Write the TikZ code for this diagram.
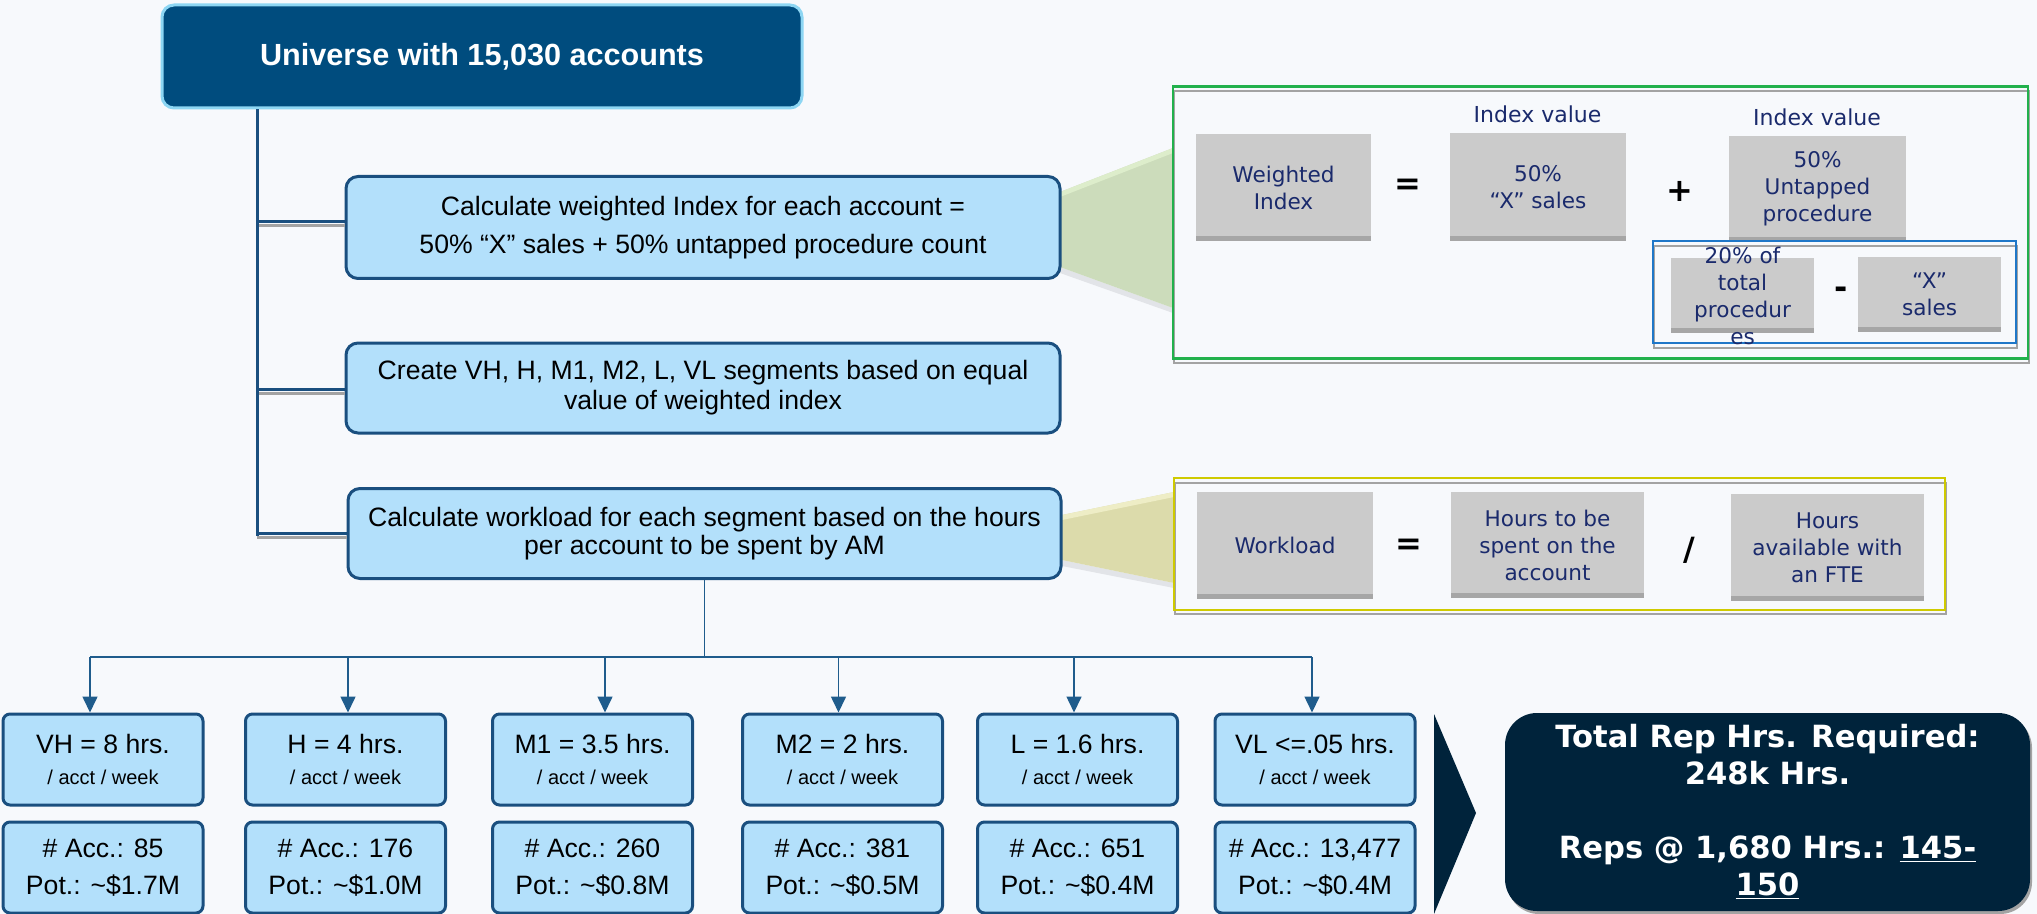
\documentclass[tikz,border=0pt]{standalone}
\usepackage{fontspec}
\setmainfont{Liberation Sans}
\newfontfamily\verd{DejaVu Sans}
\usetikzlibrary{arrows.meta}
\definecolor{bg}{HTML}{F7F9FC}
\definecolor{lblue}{HTML}{B3E0FB}
\definecolor{dblue}{HTML}{1A4F7F}
\definecolor{topfill}{HTML}{004C7E}
\definecolor{topborder}{HTML}{8DD6F3}
\definecolor{navyfill}{HTML}{00233B}
\definecolor{gbox}{HTML}{CBCBCB}
\definecolor{gstrip}{HTML}{A6A6A6}
\definecolor{gtext}{HTML}{1A2A6C}
\definecolor{pgreen}{HTML}{22B14C}
\definecolor{pyellow}{HTML}{CFCA00}
\definecolor{pblue}{HTML}{1F77C8}
\definecolor{shadowgray}{HTML}{A3A3A3}
\definecolor{trapgreen}{HTML}{CCDCBB}
\definecolor{trapgreenL}{HTML}{DDEDCB}
\definecolor{trapyel}{HTML}{DCDBAB}
\definecolor{trapyelL}{HTML}{EEEDC6}
\definecolor{trapshadow}{HTML}{E2E4E8}
\definecolor{linkblue}{HTML}{1F5C8C}
\tikzset{
  sz/.style 2 args={minimum width={#1*0.5pt}, minimum height={#2*0.5pt}},
  lbox/.style={draw=dblue, fill=lblue, line width=1.5pt, rounded corners=6pt,
    align=center, inner sep=0pt, text=black},
  segbox/.style={lbox, rounded corners=3.5pt, sz={200}{91}},
  seg1/.style={segbox, font=\fontsize{13.3}{15.8}\selectfont},
  seg2/.style={segbox, font=\fontsize{13.3}{18.5}\selectfont},
  gbx/.style={fill=gbox, draw=none, inner sep=0pt, align=center, text=gtext,
    font=\verd\fontsize{10.8}{13.5}\selectfont,
    path picture={\fill[gstrip] (path picture bounding box.south west) rectangle
      ([yshift=2.5pt]path picture bounding box.south east);}},
  gtxt/.style={inner sep=0pt, align=center, text=gtext, font=\verd\fontsize{10.8}{13.5}\selectfont},
  op/.style={font=\verd\bfseries\fontsize{16}{16}\selectfont, text=black, inner sep=0pt},
  ival/.style={font=\verd\fontsize{11}{13}\selectfont, text=gtext, inner sep=0pt},
  spine/.style={draw=dblue, line width=1.5pt},
  spshadow/.style={draw=shadowgray, line width=1.5pt},
  link/.style={draw=linkblue, line width=0.8pt},
  arr/.style={link, -{Triangle[width=7.5pt,length=8pt]}},
  panelshadow/.style={draw=shadowgray, line width=1pt},
}
\begin{document}
\begin{tikzpicture}[x=0.5pt,y=-0.5pt]
\fill[bg] (0,0) rectangle (2037,914);
\useasboundingbox (0,0) rectangle (2037,914);

% trapezoid callouts
\fill[trapshadow] (1060,267) -- (1173,308) -- (1173,313) -- (1060,273) -- cycle;
\fill[trapgreen] (1060,192) -- (1173,148) -- (1173,308) -- (1060,267) -- cycle;
\fill[trapgreenL] (1060,192) -- (1173,148) -- (1173,153) -- (1060,197) -- cycle;
\fill[trapshadow] (1062,560) -- (1174,583) -- (1174,588) -- (1062,566) -- cycle;
\fill[trapyel] (1062,515) -- (1174,492) -- (1174,583) -- (1062,560) -- cycle;
\fill[trapyelL] (1062,515) -- (1174,492) -- (1174,497) -- (1062,520) -- cycle;

% top box
\node[draw=topborder, fill=topfill, line width=1.5pt, rounded corners=6pt, sz={640}{103},
  text=white, font=\bfseries\fontsize{15.3}{18}\selectfont] (top) at (482,56.5)
  {Universe with 15,030 accounts};

% step boxes
\node[lbox, sz={714}{102}, font=\fontsize{13.3}{19}\selectfont] (box1) at (703,227.5)
  {Calculate weighted Index for each account =\\50\% “X” sales + 50\% untapped procedure count};
\node[lbox, sz={714}{90}, font=\fontsize{13.3}{15}\selectfont] (box2) at (703,388)
  {Create VH, H, M1, M2, L, VL segments based on equal\\value of weighted index};
\node[lbox, sz={713}{90}, font=\fontsize{13.3}{13.8}\selectfont] (box3) at (704.5,533.5)
  {Calculate workload for each segment based on the hours\\per account to be spent by AM};

% spine and branches
\coordinate (spb) at (257,536);
\coordinate (b1) at ([yshift=2.75pt]box1.west);
\coordinate (b1s) at ([yshift=0.75pt]box1.west);
\coordinate (b2) at ([yshift=-0.5pt]box2.west);
\coordinate (b2s) at ([yshift=-2.5pt]box2.west);
\coordinate (b3) at (box3.west);
\coordinate (b3s) at ([yshift=-2pt]box3.west);
\draw[spshadow] (b1s -| spb) -- (b1s);
\draw[spshadow] (b2s -| spb) -- (b2s);
\draw[spshadow] (b3s -| spb) -- (b3s);
\draw[spine] (b1 -| spb) -- (b1);
\draw[spine] (b2 -| spb) -- (b2);
\draw[spine] (b3 -| spb) -- (b3);
\draw[spine] (top.south -| spb) -- (spb);

% segment boxes
\node[seg1] (vh) at (103,759.5) {VH = 8 hrs.\\{\fontsize{10}{12}\selectfont / acct / week}};
\node[seg1] (h)  at (345.5,759.5) {H = 4 hrs.\\{\fontsize{10}{12}\selectfont / acct / week}};
\node[seg1] (m1) at (592.5,759.5) {M1 = 3.5 hrs.\\{\fontsize{10}{12}\selectfont / acct / week}};
\node[seg1] (m2) at (842.5,759.5) {M2 = 2 hrs.\\{\fontsize{10}{12}\selectfont / acct / week}};
\node[seg1] (l)  at (1077.5,759.5) {L = 1.6 hrs.\\{\fontsize{10}{12}\selectfont / acct / week}};
\node[seg1] (vl) at (1315,759.5) {VL <=.05 hrs.\\{\fontsize{10}{12}\selectfont / acct / week}};

\node[seg2] (vhb) at (103,867.5) {\# Acc.: 85\\Pot.: \textasciitilde\$1.7M};
\node[seg2] (hb)  at (345.5,867.5) {\# Acc.: 176\\Pot.: \textasciitilde\$1.0M};
\node[seg2] (m1b) at (592.5,867.5) {\# Acc.: 260\\Pot.: \textasciitilde\$0.8M};
\node[seg2] (m2b) at (842.5,867.5) {\# Acc.: 381\\Pot.: \textasciitilde\$0.5M};
\node[seg2] (lb)  at (1077.5,867.5) {\# Acc.: 651\\Pot.: \textasciitilde\$0.4M};
\node[seg2] (vlb) at (1315,867.5) {\# Acc.: 13,477\\Pot.: \textasciitilde\$0.4M};

% bus and arrows
\coordinate (bus) at (705,657);
\coordinate (a1) at (90,657);
\coordinate (a2) at (348,657);
\coordinate (a3) at (605,657);
\coordinate (a4) at (838.5,657);
\coordinate (a5) at (1074,657);
\coordinate (a6) at (1312,657);
\draw[link] (box3.south) -- (box3.south |- bus);
\draw[link] (a1) -- (a6);
\draw[arr] (a1) -- (a1 |- vh.north);
\draw[arr] (a2) -- (a2 |- h.north);
\draw[arr] (a3) -- (a3 |- m1.north);
\draw[arr] (a4) -- (a4 |- m2.north);
\draw[arr] (a5) -- (a5 |- l.north);
\draw[arr] (a6) -- (a6 |- vl.north);

% chevron and total
\fill[navyfill] (1434,714) -- (1476,813) -- (1434,914) -- cycle;
\fill[shadowgray, rounded corners=16pt] (1507,716) rectangle (2032,914);
\node[fill=navyfill, rounded corners=16pt, sz={525}{198}, text=white, align=center, inner sep=0pt,
  font=\verd\bfseries\fontsize{15.3}{18.5}\selectfont] (tot) at (1767.5,812)
  {Total Rep Hrs. Required:\\248k Hrs.\\[18.5pt]Reps @ 1,680 Hrs.: \underline{145-}\\\underline{150}};

% panel 1
\draw[panelshadow] (1174,91) rectangle (2029,363);
\node[draw=pgreen, line width=1.2pt, sz={855}{272}, inner sep=0pt] (p1) at (1600.5,222.5) {};
\node[gbx, sz={175}{107}] (wi) at (1283.5,187.5) {Weighted\\Index};
\node[op] (eq1) at (1408,187) {=};
\node[ival] (iv1) at (1537.5,114) {Index value};
\node[gbx, sz={176}{108}] (xs) at (1538,187) {50\%\\“X” sales};
\node[op] (plus) at (1680,191) {+};
\node[ival] (iv2) at (1817,117) {Index value};
\node[gbx, sz={177}{106}] (ut) at (1817.5,189) {50\%\\Untapped\\procedure};
\draw[panelshadow] (1654,246) rectangle (2017,348);
\node[draw=pblue, line width=1pt, sz={363}{102}, inner sep=0pt] (pb) at (1834.5,292) {};
\node[gbx, sz={143}{75}] (tp) at (1742.5,295.5) {};
\node[gtxt] (tpt) at (tp.center) {20\% of\\total\\procedur\\es};
\node[op] (minus) at (1841,293) {-};
\node[gbx, sz={143}{75}] (xs2) at (1929.5,294.5) {“X”\\sales};

% panel 2
\draw[panelshadow] (1175,483) rectangle (1946,614);
\node[draw=pyellow, line width=1.2pt, sz={771}{132}, inner sep=0pt] (p2) at (1559.5,544) {};
\node[gbx, sz={176}{107}] (wl) at (1285,545.5) {Workload};
\node[op] (eq2) at (1409,547) {=};
\node[gbx, sz={193}{106}] (hs) at (1547.5,545) {Hours to be\\spent on the\\account};
\node[op] (slash) at (1689,550) {/};
\node[gbx, sz={193}{107}] (ha) at (1827.5,547.5) {Hours\\available with\\an FTE};
\end{tikzpicture}
\end{document}
